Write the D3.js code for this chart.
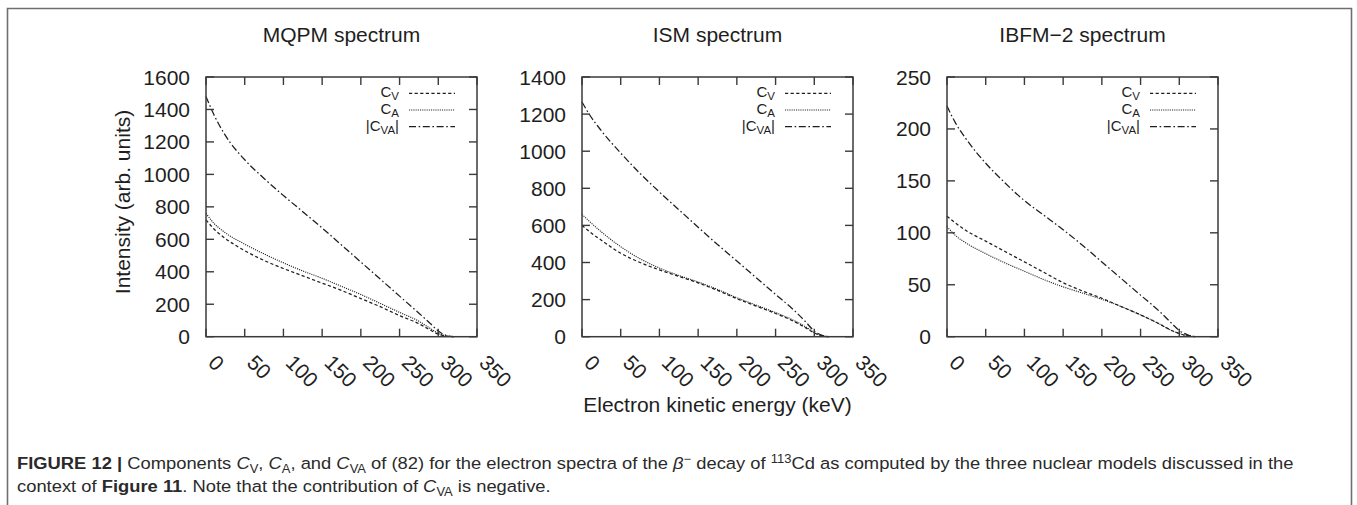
<!DOCTYPE html>
<html><head><meta charset="utf-8">
<script src="https://cdn.jsdelivr.net/npm/d3@7"></script>
<style>
html,body{margin:0;padding:0;background:#fff;}
svg{display:block;}
text{font-family:"Liberation Sans",Arial,Helvetica,sans-serif;fill:#1e1e1e;}
</style></head>
<body>
<svg id="chart" width="1357" height="505"></svg>
<script>
// ---------------- data ----------------
const energies = [0, 10, 25, 50, 75, 100, 125, 150, 175, 200, 225, 250, 275, 290, 300, 310, 320];

const mqpmCV  = [720, 665, 605, 530, 470, 420, 375, 330, 285, 235, 185, 130, 80, 40, 15, 4, 0];
const mqpmCA  = [760, 700, 640, 570, 510, 455, 405, 360, 310, 260, 205, 150, 95, 50, 20, 5, 0];
const mqpmCVA = [1480, 1370, 1240, 1090, 975, 870, 770, 670, 565, 460, 355, 250, 145, 80, 35, 8, 0];

const ismCV  = [600, 565, 520, 450, 400, 360, 325, 290, 250, 205, 165, 125, 80, 45, 20, 5, 0];
const ismCA  = [660, 620, 565, 485, 420, 370, 330, 295, 255, 210, 170, 130, 85, 50, 22, 5, 0];
const ismCVA = [1265, 1195, 1110, 990, 880, 780, 685, 590, 497, 408, 318, 228, 138, 75, 30, 8, 0];

const ibfmCV  = [116, 110, 102, 92, 82, 72, 62, 52, 44, 37, 29, 21, 12, 6, 3, 1, 0];
const ibfmCA  = [106, 98, 90, 80, 71, 63, 55, 48, 42, 36, 29, 21, 12, 6, 3, 1, 0];
const ibfmCVA = [222, 207, 190, 167, 148, 131, 117, 103, 88, 72, 56, 40, 24, 13, 6, 2, 0];

const panelTitles = ["MQPM spectrum", "ISM spectrum", "IBFM\u22122 spectrum"];
const xTicks = [0, 50, 100, 150, 200, 250, 300, 350];
const yTicksMqpm = [0, 200, 400, 600, 800, 1000, 1200, 1400, 1600];
const yTicksIsm  = [0, 200, 400, 600, 800, 1000, 1200, 1400];
const yTicksIbfm = [0, 50, 100, 150, 200, 250];
const yLabel = "Intensity (arb. units)";
const xLabel = "Electron kinetic energy (keV)";

// ---------------- layout ----------------
const svg = d3.select("#chart");
const plotTop = 77, plotBottom = 336.7, plotW = 271;
const lefts = [206, 582, 947];
const ink = "#1e1e1e";

// outer frame (left, top, right)
svg.append("path")
  .attr("d", "M7.5,505 L7.5,8.5 L1351.5,8.5 L1351.5,505")
  .attr("fill", "none").attr("stroke", "#6f6f6f").attr("stroke-width", 1.6);

const panels = [
  {title: panelTitles[0], yTicks: yTicksMqpm, cv: mqpmCV, ca: mqpmCA, cva: mqpmCVA},
  {title: panelTitles[1], yTicks: yTicksIsm,  cv: ismCV,  ca: ismCA,  cva: ismCVA},
  {title: panelTitles[2], yTicks: yTicksIbfm, cv: ibfmCV, ca: ibfmCA, cva: ibfmCVA}
];

const styles = {
  cv:  {dash: "3.2,2.4", width: 1.25},
  ca:  {dash: "1.1,1.1", width: 1.1},
  cva: {dash: "7,2.6,1.6,2.6", width: 1.25}
};

panels.forEach((p, i) => {
  const L = lefts[i], R = L + plotW;
  const x = d3.scaleLinear().domain([0, 350]).range([L, R]);
  const ymax = p.yTicks[p.yTicks.length - 1];
  const y = d3.scaleLinear().domain([0, ymax]).range([plotBottom, plotTop]);
  const g = svg.append("g");

  // title
  g.append("text").attr("x", (L + R) / 2).attr("y", 41.5)
    .attr("text-anchor", "middle").attr("font-size", 21).text(p.title);

  // curves
  const line = d3.line().x(d => x(d[0])).y(d => y(d[1])).curve(d3.curveMonotoneX);
  [["cv", p.cv], ["ca", p.ca], ["cva", p.cva]].forEach(([k, vals]) => {
    g.append("path")
      .datum(energies.map((e, j) => [e, vals[j]]))
      .attr("d", line).attr("fill", "none")
      .attr("stroke", ink).attr("stroke-width", styles[k].width)
      .attr("stroke-dasharray", styles[k].dash);
  });

  // frame
  g.append("rect").attr("x", L).attr("y", plotTop).attr("width", plotW)
    .attr("height", plotBottom - plotTop).attr("fill", "none")
    .attr("stroke", "#3a3a3a").attr("stroke-width", 1.5);

  // x ticks (inward, mirrored)
  const tl = 8;
  xTicks.forEach(t => {
    const xx = x(t);
    g.append("line").attr("x1", xx).attr("x2", xx).attr("y1", plotBottom).attr("y2", plotBottom - tl)
      .attr("stroke", "#3a3a3a").attr("stroke-width", 1.4);
    g.append("line").attr("x1", xx).attr("x2", xx).attr("y1", plotTop).attr("y2", plotTop + tl)
      .attr("stroke", "#3a3a3a").attr("stroke-width", 1.4);
    g.append("text").attr("transform", `translate(${xx + 1},364) rotate(45)`)
      .attr("text-anchor", "start").attr("font-size", 21).text(t);
  });

  // y ticks
  p.yTicks.forEach(t => {
    const yy = y(t);
    g.append("line").attr("x1", L).attr("x2", L + tl).attr("y1", yy).attr("y2", yy)
      .attr("stroke", "#3a3a3a").attr("stroke-width", 1.4);
    g.append("line").attr("x1", R).attr("x2", R - tl).attr("y1", yy).attr("y2", yy)
      .attr("stroke", "#3a3a3a").attr("stroke-width", 1.4);
    g.append("text").attr("x", L - 16).attr("y", yy + 7.5)
      .attr("text-anchor", "end").attr("font-size", 21).text(t);
  });

  // legend
  const legend = [
    {k: "cv", main: "C", sub: "V", tail: ""},
    {k: "ca", main: "C", sub: "A", tail: ""},
    {k: "cva", main: "|C", sub: "VA", tail: "|"}
  ];
  legend.forEach((d, r) => {
    const ly = plotTop + 16.3 + r * 16.7;
    g.append("line").attr("x1", R - 68).attr("x2", R - 22).attr("y1", ly).attr("y2", ly)
      .attr("stroke", ink).attr("stroke-width", styles[d.k].width)
      .attr("stroke-dasharray", styles[d.k].dash);
    const t = g.append("text").attr("x", R - 78).attr("y", ly + 4)
      .attr("text-anchor", "end").attr("font-size", 15);
    t.append("tspan").text(d.main);
    t.append("tspan").attr("font-size", 11.5).attr("dy", 3).text(d.sub);
    if (d.tail) t.append("tspan").attr("dy", -3).text(d.tail);
  });
});

// axis labels
svg.append("text").attr("transform", "translate(130,202) rotate(-90)")
  .attr("text-anchor", "middle").attr("font-size", 21).text(yLabel);
svg.append("text").attr("x", 717.5).attr("y", 412)
  .attr("text-anchor", "middle").attr("font-size", 21).text(xLabel);

// caption
const capFont = '"Liberation Sans Narrow","Liberation Sans",Arial,sans-serif';
const cap1 = svg.append("text").attr("font-size", 17).attr("font-family", capFont).style("fill", "#2a2a2a");
const cap2 = svg.append("text").attr("font-size", 17).attr("font-family", capFont).style("fill", "#2a2a2a");
function seg(t, s, o) {
  const ts = t.append("tspan").text(s);
  if (o) Object.entries(o).forEach(([k, v]) => ts.attr(k, v));
  return ts;
}
seg(cap1, "FIGURE 12 |", {"font-weight": "bold"});
seg(cap1, " Components ");
seg(cap1, "C", {"font-style": "italic"});
seg(cap1, "V", {"font-size": 12, dy: 4});
seg(cap1, ", ", {dy: -4});
seg(cap1, "C", {"font-style": "italic"});
seg(cap1, "A", {"font-size": 12, dy: 4});
seg(cap1, ", and ", {dy: -4});
seg(cap1, "C", {"font-style": "italic"});
seg(cap1, "VA", {"font-size": 12, dy: 4});
seg(cap1, " of (82) for the electron spectra of the ", {dy: -4});
seg(cap1, "\u03B2", {"font-style": "italic"});
seg(cap1, "\u2212", {"font-size": 12, dy: -6});
seg(cap1, " decay of ", {dy: 6});
seg(cap1, "113", {"font-size": 12, dy: -6});
seg(cap1, "Cd as computed by the three nuclear models discussed in the", {dy: 6});

seg(cap2, "context of ");
seg(cap2, "Figure 11", {"font-weight": "bold"});
seg(cap2, ". Note that the contribution of ");
seg(cap2, "C", {"font-style": "italic"});
seg(cap2, "VA", {"font-size": 12, dy: 4});
seg(cap2, " is negative.", {dy: -4});

const w1 = cap1.node().getComputedTextLength();
const sc = (1294 - 17) / w1;
cap1.attr("transform", `translate(17,469) scale(${sc},1)`);
cap2.attr("transform", `translate(17,492) scale(${sc},1)`);
</script>
</body></html>
